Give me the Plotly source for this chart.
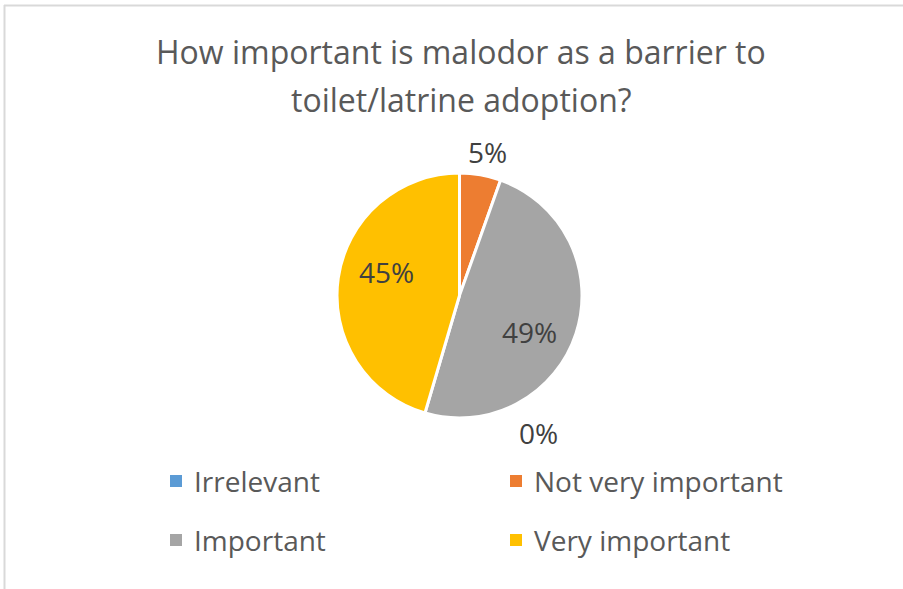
import plotly.graph_objects as go

# Survey responses (share of respondents)
categories = ["Irrelevant", "Not very important", "Important", "Very important"]
shares = [0.0, 5.45, 49.09, 45.45]
colors = ["#5B9BD5", "#ED7D31", "#A5A5A5", "#FFC000"]
title_lines = ["How important is malodor as a barrier to", "toilet/latrine adoption?"]

W, H = 903, 589
FONT = "Open Sans"
total = sum(shares)
pct_text = [f"{v / total:.0%}" for v in shares]

# Where each data label sits (pixels from the top-left corner)
label_pos = [(538, 433), (487, 152), (529, 332), (386, 272)]

fig = go.Figure()
fig.add_trace(go.Pie(
    labels=categories,
    values=shares,
    sort=False,
    direction="clockwise",
    rotation=0,
    marker=dict(colors=colors, line=dict(color="white", width=3)),
    textinfo="none",
    showlegend=False,
    hoverinfo="label+percent",
    domain=dict(x=[(459.5 - 122.5) / W, (459.5 + 122.5) / W],
                y=[(H - 295.5 - 122.5) / H, (H - 295.5 + 122.5) / H]),
))

annotations = []
# Two-line title
for i, line in enumerate(title_lines):
    annotations.append(dict(
        text=line, x=461 / W, y=1 - (52 + 47 * i) / H, xref="paper", yref="paper",
        xanchor="center", yanchor="middle", showarrow=False,
        font=dict(family=FONT, size=32, color="#595959")))

# Percentage labels of the slices
for txt, (px, py) in zip(pct_text, label_pos):
    annotations.append(dict(
        text=txt, x=px / W, y=1 - py / H, xref="paper", yref="paper",
        xanchor="center", yanchor="middle", showarrow=False,
        font=dict(family=FONT, size=28, color="#404040")))

# Legend: two columns, two rows
shapes = []
col_x = [170, 510]
row_y = [481, 540]
for i, (name, col) in enumerate(zip(categories, colors)):
    cx = col_x[i % 2]
    cy = row_y[i // 2]
    shapes.append(dict(type="rect", xref="paper", yref="paper",
                       x0=cx / W, x1=(cx + 12) / W,
                       y0=1 - (cy + 6) / H, y1=1 - (cy - 6) / H,
                       fillcolor=col, line=dict(width=0)))
    annotations.append(dict(
        text=name, x=(cx + 22) / W, y=1 - cy / H, xref="paper", yref="paper",
        xanchor="left", yanchor="middle", showarrow=False,
        font=dict(family=FONT, size=28, color="#595959")))

# Light frame on the top and left edges
shapes.append(dict(type="line", xref="paper", yref="paper",
                   x0=4 / W, x1=1, y0=1 - 5.5 / H, y1=1 - 5.5 / H,
                   line=dict(color="#D9D9D9", width=2)))
shapes.append(dict(type="line", xref="paper", yref="paper",
                   x0=4.5 / W, x1=4.5 / W, y0=0, y1=1 - 5 / H,
                   line=dict(color="#D9D9D9", width=2)))

fig.update_layout(
    width=W, height=H,
    margin=dict(l=0, r=0, t=0, b=0),
    paper_bgcolor="white",
    plot_bgcolor="white",
    annotations=annotations,
    shapes=shapes,
)

fig.write_html("out.html")
